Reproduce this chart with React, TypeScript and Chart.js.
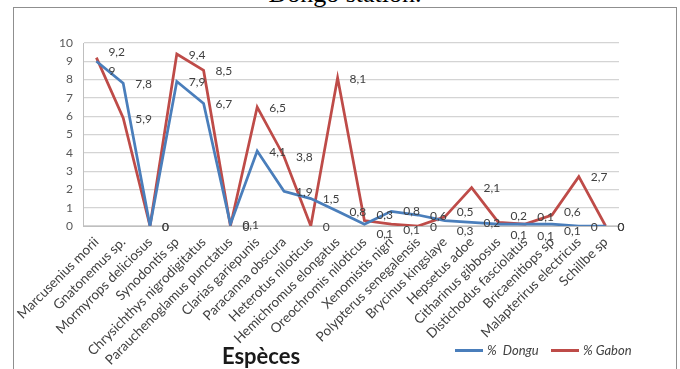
import { useEffect, useRef } from "react";
import { Chart, registerables } from "chart.js";

Chart.register(...registerables);

const species = [
  "Marcusenius morii",
  "Gnatonemus sp.",
  "Mormyrops deliciosus",
  "Synodontis sp",
  "Chrysichthys nigrodigitatus",
  "Parauchenoglamus punctatus",
  "Clarias gariepunis",
  "Paracanna obscura",
  "Heterotus niloticus",
  "Hemichromus elongatus",
  "Oreochromis niloticus",
  "Xenomistis nigri",
  "Polypterus senegalensis",
  "Brycinus kingslaye",
  "Hepsetus adoe",
  "Citharinus gibbosus",
  "Distichodus fasciolatus",
  "Bricaenitiops sp",
  "Malapterirus electricus",
  "Schillbe sp",
];

const dongu = [9, 7.8, 0, 7.9, 6.7, 0.1, 4.1, 1.9, 1.5, 0.8, 0.1, 0.8, 0.6, 0.3, 0.2, 0.1, 0.1, 0.1, 0, 0];
const gabon = [9.2, 5.9, 0, 9.4, 8.5, 0, 6.5, 3.8, 0, 8.1, 0.3, 0.1, 0, 0.5, 2.1, 0.2, 0.1, 0.6, 2.7, 0];

const seriesNames = ["%  Dongu", "% Gabon"];
const blue = "#4a7ebb";
const red = "#be4b48";
const textGrey = "#404040";
const FONT = "Lato, 'Open Sans', sans-serif";

const fmt = (v: number) => String(v).replace(".", ",");

// Value labels to the right of each point, nudged apart when the two series sit close together.
const valueLabels = {
  id: "valueLabels",
  afterDatasetsDraw(chart: any) {
    const ctx = chart.ctx;
    const pd = chart.getDatasetMeta(0).data;
    const pg = chart.getDatasetMeta(1).data;
    ctx.save();
    ctx.font = `12px ${FONT}`;
    ctx.fillStyle = textGrey;
    ctx.textAlign = "left";
    ctx.textBaseline = "middle";
    for (let i = 0; i < species.length; i++) {
      const vd = dongu[i];
      const vg = gabon[i];
      let yd = pd[i].y + 1;
      let yg = pg[i].y + 1;
      if (vd > 0 && vg > 0 && Math.abs(yd - yg) < 16) {
        const mid = (yd + yg) / 2;
        if (yg <= yd) {
          yg = mid - 8;
          yd = mid + 11;
        } else {
          yd = mid - 8;
          yg = mid + 11;
        }
      }
      ctx.fillText(fmt(vg), pg[i].x + 12, yg);
      ctx.fillText(fmt(vd), pd[i].x + 12, yd);
    }
    ctx.restore();
  },
};

// Axis title and legend along the bottom edge.
const footer = {
  id: "footer",
  afterDraw(chart: any) {
    const ctx = chart.ctx;
    ctx.save();
    ctx.font = `bold 22px ${FONT}`;
    ctx.fillStyle = "#1a1a1a";
    ctx.textAlign = "center";
    ctx.textBaseline = "alphabetic";
    ctx.fillText("Espèces", 261, 364);

    const items = [
      { x: 455, color: blue, label: seriesNames[0] },
      { x: 551, color: red, label: seriesNames[1] },
    ];
    ctx.font = `italic 13px ${FONT}`;
    ctx.textAlign = "left";
    ctx.textBaseline = "middle";
    for (const it of items) {
      ctx.strokeStyle = it.color;
      ctx.lineWidth = 3;
      ctx.beginPath();
      ctx.moveTo(it.x, 350.5);
      ctx.lineTo(it.x + 28, 350.5);
      ctx.stroke();
      ctx.fillStyle = textGrey;
      ctx.fillText(it.label, it.x + 32, 351);
    }
    ctx.restore();
  },
};

export default function App() {
  const ref = useRef<HTMLCanvasElement | null>(null);

  useEffect(() => {
    if (!ref.current) return;
    const chart = new Chart(ref.current, {
      type: "line",
      data: {
        labels: species,
        datasets: [
          {
            label: seriesNames[0],
            data: dongu,
            borderColor: blue,
            backgroundColor: blue,
            borderWidth: 2.75,
            pointRadius: 0,
            tension: 0,
          },
          {
            label: seriesNames[1],
            data: gabon,
            borderColor: red,
            backgroundColor: red,
            borderWidth: 2.75,
            pointRadius: 0,
            tension: 0,
          },
        ],
      },
      options: {
        responsive: false,
        animation: false,
        layout: { padding: { left: 0, right: 61, top: 43, bottom: 0 } },
        plugins: {
          legend: { display: false },
          tooltip: { enabled: false },
        },
        scales: {
          x: {
            offset: true,
            grid: { display: false, drawTicks: false, offset: true },
            border: { color: "#bfbfbf", width: 1 },
            ticks: {
              autoSkip: false,
              minRotation: 45,
              maxRotation: 45,
              padding: 8,
              color: textGrey,
              font: { family: FONT, size: 13.5 },
            },
            afterFit: (s: any) => {
              s.height = 143;
            },
          },
          y: {
            min: 0,
            max: 10,
            ticks: {
              stepSize: 1,
              padding: 10,
              color: "#595959",
              font: { family: FONT, size: 12 },
            },
            grid: { color: "#d4d4d4", lineWidth: 1.2, drawTicks: false },
            border: { color: "#bfbfbf", width: 1 },
            afterFit: (s: any) => {
              s.width = 83;
            },
          },
        },
      },
      plugins: [valueLabels, footer],
    });
    return () => chart.destroy();
  }, []);

  return (
    <div
      style={{
        position: "fixed",
        left: 0,
        top: 0,
        width: 680,
        height: 369,
        overflow: "hidden",
        background: "#fff",
      }}
    >
      <div
        style={{
          position: "absolute",
          left: 0,
          width: 690,
          top: -19,
          textAlign: "center",
          fontFamily: "'Liberation Serif', 'DejaVu Serif', serif",
          fontSize: 26,
          lineHeight: "26px",
          color: "#000",
        }}
      >
        Dongo station.
      </div>
      <canvas
        ref={ref}
        width={680}
        height={369}
        style={{ position: "absolute", left: 0, top: 0, width: 680, height: 369 }}
      />
      <div
        style={{
          position: "absolute",
          left: 13,
          top: 7,
          width: 662,
          height: 400,
          border: "1.5px solid #8f8f8f",
          pointerEvents: "none",
        }}
      />
    </div>
  );
}
